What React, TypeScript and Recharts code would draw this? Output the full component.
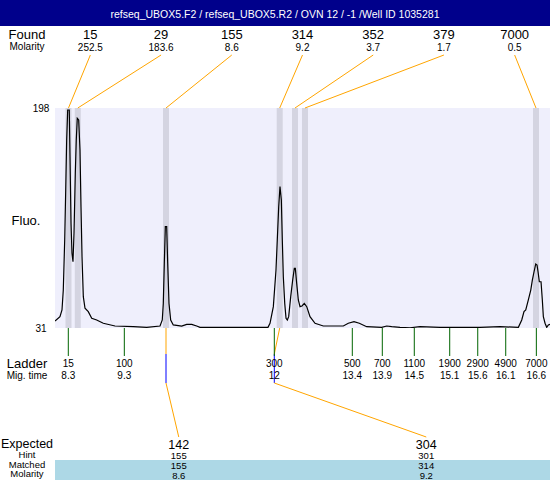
import React from 'react';
import { ComposedChart, Line, XAxis, YAxis, CartesianGrid, ReferenceLine } from 'recharts';

// ---------- data ----------
const title = 'refseq_UBOX5.F2 / refseq_UBOX5.R2 / OVN 12 / -1 /Well ID 1035281';

// electropherogram trace: [migration time, fluorescence]
const tracePoints: [number, number][] = [
  [8.064, 36.3], [8.152, 39.6], [8.188, 44.7], [8.211, 59.8], [8.236, 97.8], [8.254, 135.8],
  [8.271, 173.7], [8.289, 196.5], [8.317, 196.5], [8.33, 161.0], [8.348, 110.5], [8.365, 87.7],
  [8.383, 81.3], [8.401, 102.9], [8.424, 148.4], [8.441, 173.7], [8.459, 190.2], [8.484, 188.9],
  [8.507, 166.1], [8.525, 123.1], [8.543, 85.1], [8.566, 54.8], [8.596, 46.0], [8.654, 43.4],
  [8.715, 38.4], [8.803, 37.1], [8.92, 34.6], [9.128, 32.5], [9.452, 32.0], [9.69, 31.5],
  [9.926, 32.5], [9.966, 37.1], [9.984, 49.7], [10.002, 80.1], [10.02, 107.9], [10.044, 107.9],
  [10.062, 80.1], [10.085, 49.7], [10.115, 37.1], [10.161, 33.3], [10.31, 32.5], [10.399, 33.8],
  [10.488, 33.8], [10.576, 32.5], [10.635, 31.5], [11.167, 31.5], [11.699, 31.5], [11.84, 31.5],
  [11.876, 34.6], [11.935, 47.2], [11.982, 75.0], [12.005, 97.8], [12.03, 123.1], [12.053, 138.3],
  [12.077, 128.2], [12.094, 97.8], [12.112, 69.9], [12.137, 49.7], [12.16, 38.4], [12.183, 37.1],
  [12.207, 39.6], [12.243, 54.8], [12.278, 67.4], [12.307, 76.3], [12.325, 76.3], [12.349, 64.9],
  [12.378, 52.3], [12.408, 47.2], [12.443, 47.7], [12.484, 49.7], [12.527, 47.2], [12.585, 39.6],
  [12.674, 34.6], [12.821, 32.5], [13.176, 32.5], [13.264, 34.6], [13.365, 35.8], [13.459, 34.6],
  [13.59, 32.0], [13.856, 31.5], [13.945, 32.5], [14.034, 32.0], [14.181, 31.5], [14.358, 31.2],
  [14.535, 32.0], [14.89, 31.5], [15.245, 31.4], [15.599, 31.5], [15.954, 32.0], [16.279, 31.5],
  [16.339, 37.1], [16.379, 43.4], [16.41, 44.7], [16.456, 52.3], [16.499, 59.8], [16.527, 67.4],
  [16.557, 73.7], [16.587, 79.6], [16.61, 78.8], [16.628, 73.7], [16.651, 66.1], [16.681, 66.1],
  [16.704, 52.3], [16.722, 39.6], [16.752, 34.6], [16.782, 31.5], [16.811, 33.3], [16.84, 33.8],
];

const foundSizes = [15, 29, 155, 314, 352, 379, 7000];
const foundMolarity = [252.5, 183.6, 8.6, 9.2, 3.7, 1.7, 0.5];
const peakTimes = [8.303, 8.468, 10.032, 12.048, 12.319, 12.496, 16.592];

const ladderSizes = [15, 100, 300, 500, 700, 1100, 1900, 2900, 4900, 7000];
const ladderTimes = [8.3, 9.293, 11.952, 13.335, 13.867, 14.434, 15.062, 15.559, 16.055, 16.598];
const ladderMigLabels = ['8.3', '9.3', '12', '13.4', '13.9', '14.5', '15.1', '15.6', '16.1', '16.6'];

const expectedSizes = [142, 304];
const hintSizes = [155, 301];
const matchedSizes = [155, 314];
const matchedMolarity = [8.6, 9.2];
const matchedPeakIndex = [2, 3];
const matchedMarkerTimes = [10.032, 11.952];

const yTicks = [31, 198];
const xDomain: [number, number] = [8.064, 16.84];

// ---------- layout / style ----------
const W = 550;
const H = 480;
const PL = 55;
const PT = 108;
const PW = 495;
const PH = 220;
const FONT = '"Liberation Sans", Arial, Helvetica, sans-serif';
const ORANGE = '#FFA500';
const BAND = '#D4D4E1';
const PLOT_BG = '#EFEFFC';
const LABEL_X = 27;

const foundColX = (k: number) => PL + (PW / foundSizes.length) * (k + 0.5);
const expColX = (k: number) => PL + (PW / expectedSizes.length) * (k + 0.5);

const traceData = tracePoints.map(([t, v]) => ({ t, v }));

const YTick = (props: any) => {
  const { x, y, payload } = props;
  return (
    <text x={x - 14} y={y + 3.5} textAnchor="middle" fontSize={10} fill="#000" fontFamily={FONT}>
      {payload.value}
    </text>
  );
};

const LadderTick = (props: any) => {
  const { x, payload, index } = props;
  let i = typeof index === 'number' ? index : ladderTimes.indexOf(payload.value);
  if (ladderTimes[i] !== payload.value) i = ladderTimes.indexOf(payload.value);
  return (
    <g>
      <text x={x} y={PT + PH + 39} textAnchor="middle" fontSize={10} fill="#000" fontFamily={FONT}>
        {ladderSizes[i]}
      </text>
      <text x={x} y={PT + PH + 51} textAnchor="middle" fontSize={10} fill="#000" fontFamily={FONT}>
        {ladderMigLabels[i]}
      </text>
    </g>
  );
};

const bandShape = (p: any) => {
  const top = Math.min(p.y1, p.y2);
  const bottom = Math.max(p.y1, p.y2);
  return <line x1={p.x1} y1={top} x2={p.x1} y2={bottom} stroke={BAND} strokeWidth={6} />;
};

const leaderShape = (k: number) => (p: any) => {
  const top = Math.min(p.y1, p.y2);
  return <line x1={foundColX(k)} y1={55} x2={p.x1} y2={top} stroke={ORANGE} strokeWidth={1} />;
};

const matchShape = (k: number) => (p: any) => {
  const yb = Math.max(p.y1, p.y2);
  const xa = p.x1;
  const xb = p.x2;
  return (
    <g>
      <line x1={xa} y1={yb} x2={xb} y2={yb + 26} stroke={ORANGE} strokeWidth={1} />
      <line x1={xb} y1={yb + 26} x2={xb} y2={yb + 55} stroke="#0000FF" strokeWidth={1} />
      <line x1={xb} y1={yb + 55} x2={expColX(k)} y2={437} stroke={ORANGE} strokeWidth={1} />
    </g>
  );
};

export default function App() {
  const txt = (x: number, y: number, s: any, size: number, anchor: any = 'middle', key?: any) => (
    <text key={key} x={x} y={y} fontSize={size} textAnchor={anchor} fill="#000" fontFamily={FONT}>
      {s}
    </text>
  );
  return (
    <div style={{ position: 'absolute', left: 0, top: 0, width: W, height: H, background: '#fff' }}>
      <svg width={W} height={H} style={{ position: 'absolute', left: 0, top: 0 }}>
        <rect x={0} y={0} width={W} height={26} fill="#00008B" />
        <text x={W / 2} y={18} fontSize={10.5} textAnchor="middle" fill="#fff" fontFamily={FONT}>
          {title}
        </text>
        {txt(LABEL_X, 39, 'Found', 13)}
        {txt(LABEL_X, 50, 'Molarity', 10)}
        {foundSizes.map((s, k) => txt(foundColX(k), 39, s, 13, 'middle', 'fs' + k))}
        {foundMolarity.map((m, k) => txt(foundColX(k), 50.5, m.toFixed(1), 10, 'middle', 'fm' + k))}
        {txt(LABEL_X - 1, 225, 'Fluo.', 13)}
        {txt(LABEL_X, 368, 'Ladder', 13)}
        {txt(LABEL_X, 379, 'Mig. time', 10)}
        <rect x={PL} y={460} width={PW} height={20} fill="#ADD8E6" />
        {txt(LABEL_X, 447.5, 'Expected', 12.5)}
        {txt(LABEL_X, 458, 'Hint', 9.5)}
        {txt(LABEL_X, 468, 'Matched', 9.5)}
        {txt(LABEL_X, 477, 'Molarity', 9.5)}
        {expectedSizes.map((s, k) => txt(expColX(k), 448.5, s, 12.5, 'middle', 'es' + k))}
        {hintSizes.map((s, k) => txt(expColX(k), 459, s, 9.5, 'middle', 'hs' + k))}
        {matchedSizes.map((s, k) => txt(expColX(k), 469, s, 9.5, 'middle', 'ms' + k))}
        {matchedMolarity.map((m, k) => txt(expColX(k), 478.5, m.toFixed(1), 9.5, 'middle', 'mm' + k))}
      </svg>
      <div style={{ position: 'absolute', left: 0, top: 0 }}>
        <ComposedChart
          width={W}
          height={H}
          data={traceData}
          margin={{ top: PT, right: W - PL - PW, bottom: H - PT - PH - 60, left: 0 }}
        >
          <CartesianGrid horizontal={false} vertical={false} fill={PLOT_BG} stroke="none" />
          <XAxis
            dataKey="t"
            type="number"
            domain={xDomain}
            allowDataOverflow
            ticks={ladderTimes}
            interval={0}
            height={60}
            axisLine={false}
            tickLine={{ stroke: '#006400', strokeWidth: 1 }}
            tickSize={28}
            tickMargin={0}
            tick={<LadderTick />}
          />
          <YAxis
            type="number"
            domain={[yTicks[0], yTicks[1]]}
            allowDataOverflow
            ticks={yTicks}
            width={PL}
            axisLine={false}
            tickLine={false}
            tickSize={0}
            tickMargin={0}
            tick={<YTick />}
          />
          {peakTimes.map((t, k) => (
            <ReferenceLine key={'band' + k} x={t} shape={bandShape} ifOverflow="visible" />
          ))}
          <Line
            type="linear"
            dataKey="v"
            stroke="#000"
            strokeWidth={1.2}
            dot={false}
            activeDot={false}
            isAnimationActive={false}
          />
          {peakTimes.map((t, k) => (
            <ReferenceLine key={'lead' + k} x={t} shape={leaderShape(k)} ifOverflow="visible" />
          ))}
          {matchedPeakIndex.map((pi, k) => (
            <ReferenceLine
              key={'match' + k}
              segment={[
                { x: peakTimes[pi], y: yTicks[0] },
                { x: matchedMarkerTimes[k], y: yTicks[0] },
              ]}
              shape={matchShape(k)}
              ifOverflow="visible"
            />
          ))}
        </ComposedChart>
      </div>
    </div>
  );
}
